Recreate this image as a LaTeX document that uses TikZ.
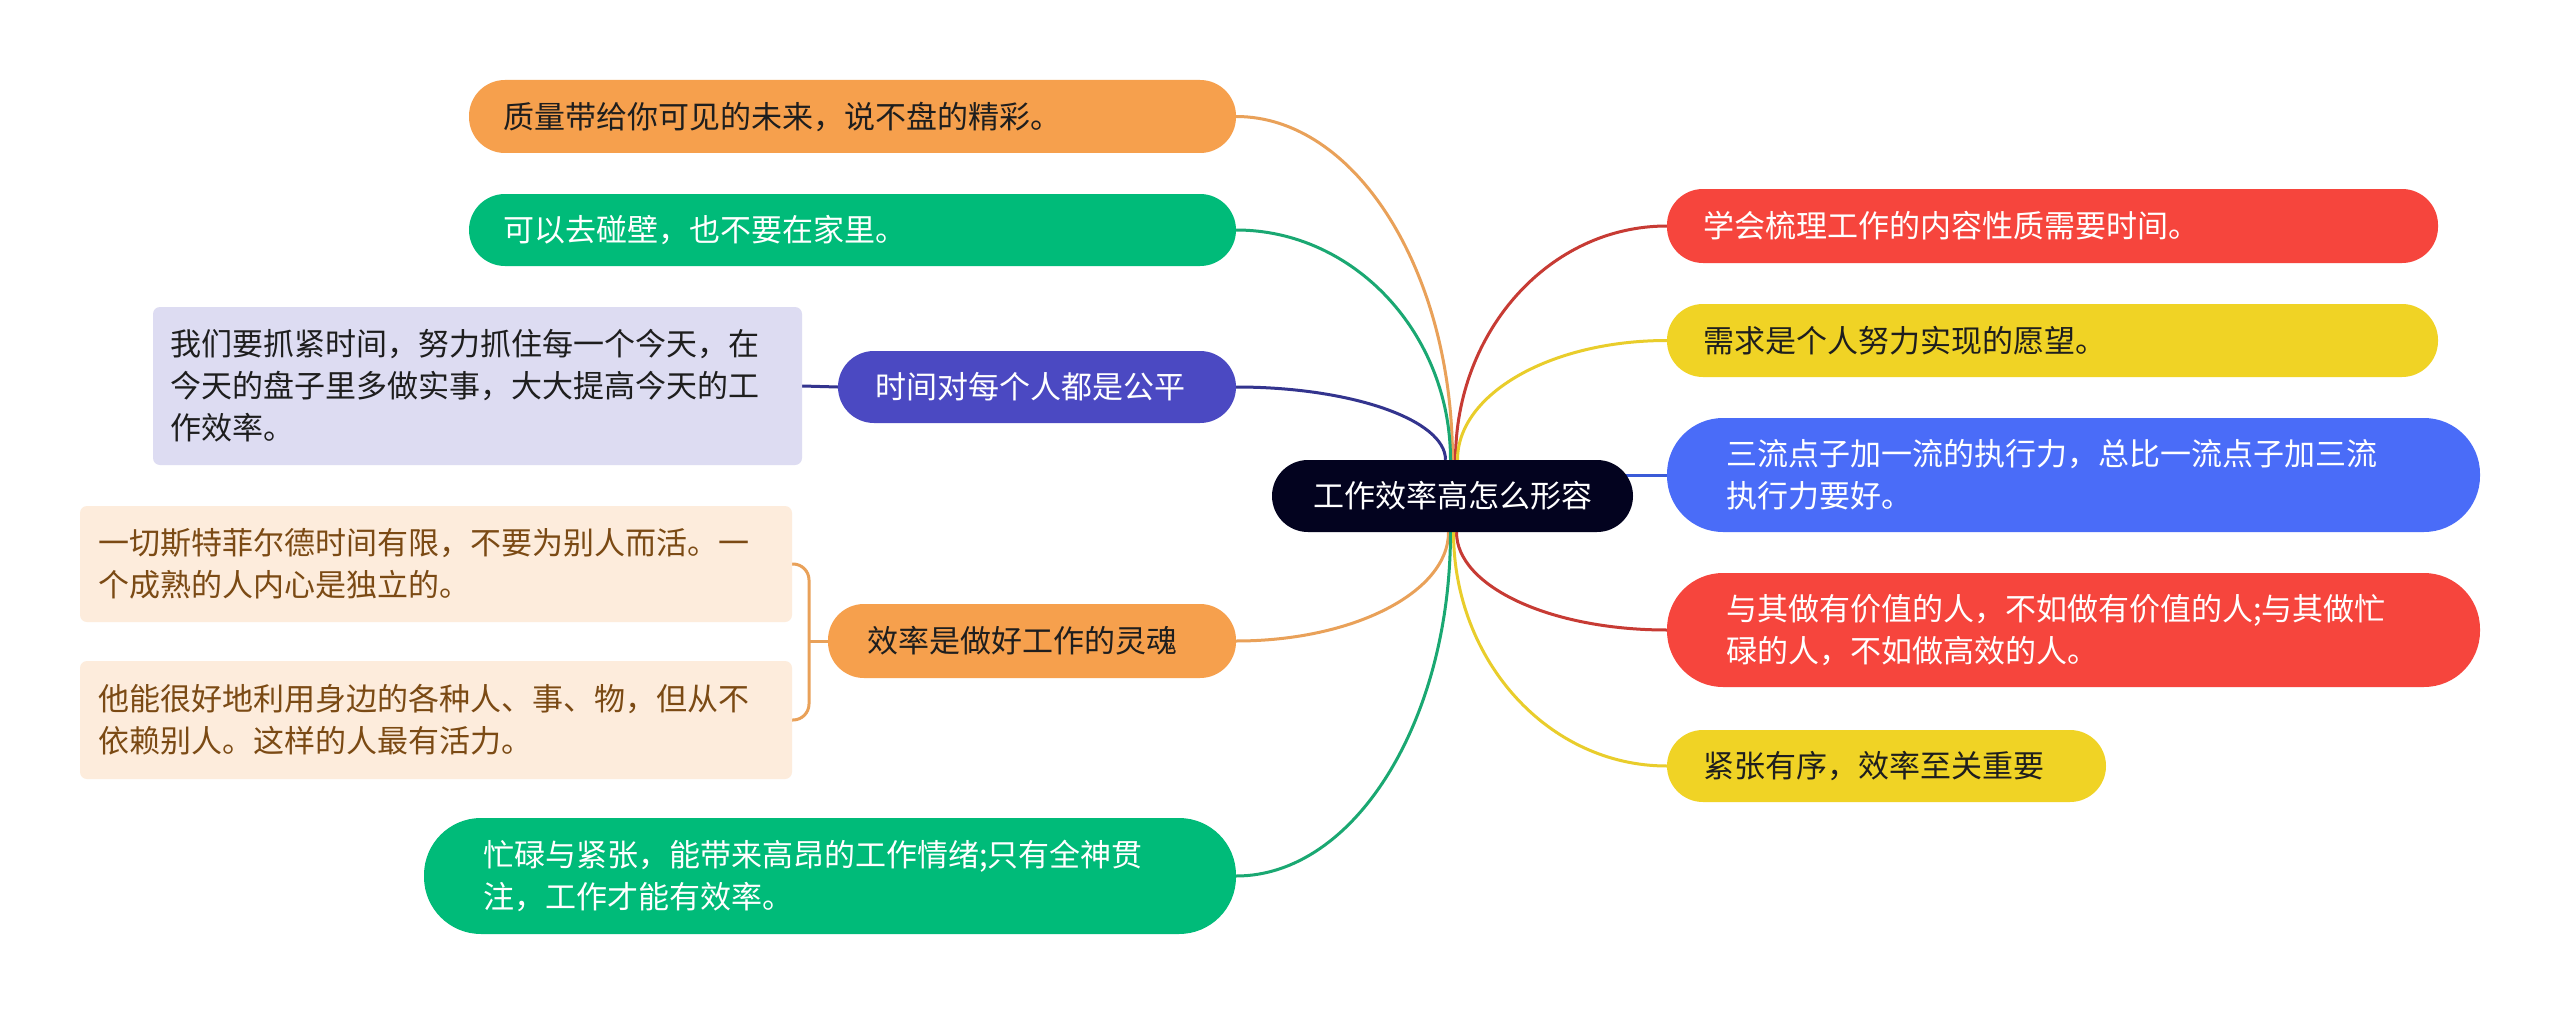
\documentclass[tikz,border=0pt]{standalone}
\usepackage{fontspec}
\setmainfont{Noto Sans CJK SC}
\usepackage{tikz}
\usetikzlibrary{backgrounds}
\definecolor{mmorange}{HTML}{F6A04D}
\definecolor{mmgreen}{HTML}{00BB79}
\definecolor{mmpurple}{HTML}{4B49C2}
\definecolor{mmred}{HTML}{F6453D}
\definecolor{mmyellow}{HTML}{F0D325}
\definecolor{mmblue}{HTML}{4A6CF8}
\definecolor{mmdark}{HTML}{03031F}
\definecolor{mmlavender}{HTML}{DDDCF2}
\definecolor{mmbeige}{HTML}{FDECDC}
\definecolor{mmbrown}{HTML}{7B4A14}
\definecolor{mmink}{HTML}{1E1E1E}
\definecolor{lnorange}{HTML}{E9A159}
\definecolor{lngreen}{HTML}{1AA872}
\definecolor{lnpurple}{HTML}{33348E}
\definecolor{lnred}{HTML}{C73B34}
\definecolor{lnyellow}{HTML}{E9CD2B}
\definecolor{lnblue}{HTML}{3B5BD8}
\tikzset{
  pill/.style={rounded corners=#1, inner ysep=0pt, align=left,
    font=\fontsize{31}{42}\selectfont},
  leaf/.style={rounded corners=7pt, inner ysep=0pt, align=left,
    font=\fontsize{31}{42}\selectfont},
  link/.style={line width=3pt}
}

\begin{document}
\begin{tikzpicture}[x=1pt,y=-1pt]
  \useasboundingbox (0,0) rectangle (2560,1014);

  \node [pill=36pt, fill=mmdark, text=white, minimum width=361pt, minimum height=72pt, inner xsep=0pt]
    (topic) at (1452.5,496) {工作效率高怎么形容};

  \node [pill=36pt, fill=mmorange, text=mmink, minimum height=73pt, text width=699pt, inner xsep=34pt]
    (quality) at (852.5,116.5) {质量带给你可见的未来，说不盘的精彩。};
  \node [pill=36pt, fill=mmgreen, text=white, minimum height=72pt, text width=699pt, inner xsep=34pt]
    (wall) at (852.5,230) {可以去碰壁，也不要在家里。};
  \node [pill=36pt, fill=mmpurple, text=white, minimum height=72pt, text width=324pt, inner xsep=37pt]
    (fair) at (1037,387) {时间对每个人都是公平};
  \node [leaf, fill=mmlavender, text=mmink, minimum height=158pt, text width=615pt, inner xsep=17pt]
    (fairleaf) at (477.5,386) {我们要抓紧时间，努力抓住每一个今天，在\\今天的盘子里多做实事，大大提高今天的工\\作效率。};
  \node [pill=36pt, fill=mmorange, text=mmink, minimum height=74pt, text width=330pt, inner xsep=39pt]
    (soul) at (1032,641) {效率是做好工作的灵魂};
  \node [leaf, fill=mmbeige, text=mmbrown, minimum height=116pt, text width=676pt, inner xsep=18pt]
    (soulleafa) at (436,564) {一切斯特菲尔德时间有限，不要为别人而活。一\\个成熟的人内心是独立的。};
  \node [leaf, fill=mmbeige, text=mmbrown, minimum height=118pt, text width=676pt, inner xsep=18pt]
    (soulleafb) at (436,720) {他能很好地利用身边的各种人、事、物，但从不\\依赖别人。这样的人最有活力。};
  \node [pill=57pt, fill=mmgreen, text=white, minimum height=116pt, text width=694pt, inner xsep=59pt]
    (busy) at (830,876) {忙碌与紧张，能带来高昂的工作情绪;只有全神贯\\注，工作才能有效率。};

  \node [pill=36pt, fill=mmred, text=white, minimum height=74pt, text width=699pt, inner xsep=36pt]
    (learn) at (2052.5,226) {学会梳理工作的内容性质需要时间。};
  \node [pill=36pt, fill=mmyellow, text=mmink, minimum height=73pt, text width=699pt, inner xsep=36pt]
    (need) at (2052.5,340.5) {需求是个人努力实现的愿望。};
  \node [pill=56pt, fill=mmblue, text=white, minimum height=114pt, text width=695pt, inner xsep=59pt]
    (idea) at (2073.5,475) {三流点子加一流的执行力，总比一流点子加三流\\执行力要好。};
  \node [pill=56pt, fill=mmred, text=white, minimum height=114pt, text width=695pt, inner xsep=59pt]
    (worth) at (2073.5,630) {与其做有价值的人，不如做有价值的人;与其做忙\\碌的人，不如做高效的人。};
  \node [pill=36pt, fill=mmyellow, text=mmink, minimum height=72pt, text width=367pt, inner xsep=36pt]
    (tense) at (1886.5,766) {紧张有序，效率至关重要};

  \coordinate (brace) at (809,641);

  \begin{scope}[on background layer]
    \fill [white] (0,0) rectangle (2560,1014);
    \draw [link, lnorange] (quality.east) .. controls +(119,0) and +(0,-189) .. (topic.north);
    \draw [link, lngreen] (wall.east) .. controls +(118,0) and +(0,-126) .. ([xshift=-2pt]topic.north);
    \draw [link, lnpurple] (fair.east) .. controls +(115,0) and +(0,-40) .. ([xshift=-7pt]topic.north);
    \draw [link, lnorange] (soul.east) .. controls +(117,0) and +(0,60) .. ([xshift=-4pt]topic.south);
    \draw [link, lngreen] (busy.east) .. controls +(118,0) and +(0,189) .. ([xshift=-2pt]topic.south);
    \draw [link, lnred] ([xshift=3pt]topic.north) .. controls +(0,-129) and +(-117,0) .. (learn.west);
    \draw [link, lnyellow] ([xshift=5pt]topic.north) .. controls +(0,-66) and +(-116,0) .. (need.west);
    \draw [link, lnblue] (topic.center |- idea.west) -- (idea.west);
    \draw [link, lnred] ([xshift=4pt]topic.south) .. controls +(0,54) and +(-117,0) .. (worth.west);
    \draw [link, lnyellow] ([xshift=1pt]topic.south) .. controls +(0,129) and +(-118,0) .. (tense.west);
    \draw [link, lnpurple] (fairleaf.east) -- (fair.west);
    \draw [link, lnorange, rounded corners=16pt] (soulleafa.east) -| (brace) |- (soulleafb.east);
    \draw [link, lnorange] (brace) -- (soul.west);
  \end{scope}
\end{tikzpicture}
\end{document}
